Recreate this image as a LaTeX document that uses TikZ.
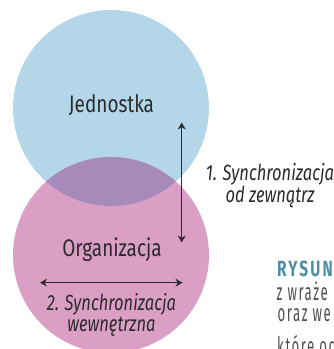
\documentclass[tikz,border=0pt]{standalone}
\usepackage{fontspec}
\setmainfont{Fira Sans}[FakeStretch=0.79]
\newfontfamily\italfont{Fira Sans}[FakeStretch=0.75]
\newfontfamily\capfont{Fira Sans}[FakeStretch=0.7,LetterSpace=10]
\newfontfamily\bodyfont{Fira Sans}[FakeStretch=0.55,LetterSpace=6.5]
\usetikzlibrary{arrows.meta}
\definecolor{cblue}{HTML}{B3D6E9}
\definecolor{cpink}{HTML}{DB9FC6}
\definecolor{cmix}{HTML}{A68AB9}
\definecolor{ctext}{HTML}{2B2B2B}
\definecolor{cteal}{HTML}{4E8FA8}
\definecolor{cgray}{HTML}{505050}
\tikzset{
  lbl/.style={text=ctext, inner sep=0pt, anchor=base, font=\fontsize{24}{26}\selectfont},
  ilbl/.style={text=ctext, inner sep=0pt, align=center, font=\fontsize{22}{20.7}\italfont\itshape\selectfont},
  side/.style={anchor=base west, inner sep=0pt, text=cgray, font=\fontsize{24}{26}\bodyfont\selectfont},
  dbl/.style={draw=ctext, line width=1.3pt, {Stealth[length=7pt,width=8pt]}-{Stealth[length=7pt,width=8pt]}},
}
\begin{document}
\begin{tikzpicture}[x=1pt,y=-1pt]
\useasboundingbox (0,0) rectangle (334,349);
\fill[cblue] (111,108) circle (98);
\fill[cpink] (111,255) circle (98);
\begin{scope}
  \clip (111,108) circle (98);
  \fill[cmix] (111,255) circle (98);
\end{scope}
\node[lbl] (jed) at (111.5,112) {Jednostka};
\node[lbl] (org) at (112,256) {Organizacja};
\coordinate (vt) at (181.7,122.5);
\coordinate (vb) at (181.7,242.5);
\draw[dbl] (vt) -- (vb);
\coordinate (hl) at (40,282.7);
\coordinate (hr) at (182.5,282.7);
\draw[dbl] (hl) -- (hr);
\node[ilbl] (s1) at (270,185.5) {1. Synchronizacja\\od zewnątrz};
\node[ilbl] (s2) at (111.5,315) {2. Synchronizacja\\wewnętrzna};
\node[anchor=base west, inner sep=0pt, text=cteal, font=\fontsize{22}{24}\capfont\bfseries\selectfont] (rys) at (277,276) {RYSUN};
\node[side] (l1) at (276.5,300) {z wraże};
\node[side] (l2) at (277.5,321.5) {oraz we};
\node[side] (l3) at (277,354.5) {które od};
\end{tikzpicture}
\end{document}
